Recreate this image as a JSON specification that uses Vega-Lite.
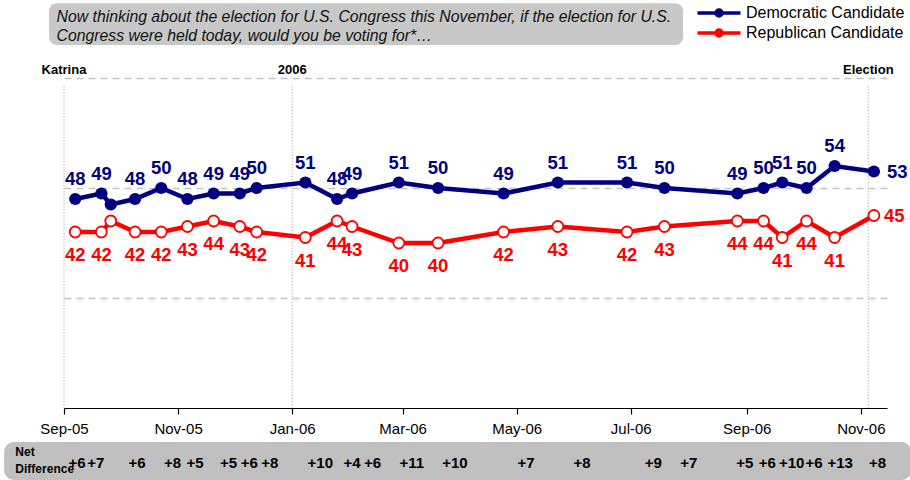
{
  "$schema": "https://vega.github.io/schema/vega-lite/v6.json",
  "width": 823,
  "height": 330,
  "autosize": {"type": "none"},
  "padding": {"left": 64, "top": 78, "right": 23, "bottom": 72},
  "background": "white",
  "config": {"font": "Liberation Sans", "view": {"stroke": null}},
  "datasets": {
    "series": [
      {"date": "2005-09-07", "dem": 48, "rep": 42, "dl": "48", "rl": "42"},
      {"date": "2005-09-21", "dem": 49, "rep": 42, "dl": "49", "rl": "42"},
      {"date": "2005-09-26", "dem": 47, "rep": 44, "dl": null, "rl": null},
      {"date": "2005-10-09", "dem": 48, "rep": 42, "dl": "48", "rl": "42"},
      {"date": "2005-10-23", "dem": 50, "rep": 42, "dl": "50", "rl": "42"},
      {"date": "2005-11-06", "dem": 48, "rep": 43, "dl": "48", "rl": "43"},
      {"date": "2005-11-20", "dem": 49, "rep": 44, "dl": "49", "rl": "44"},
      {"date": "2005-12-04", "dem": 49, "rep": 43, "dl": "49", "rl": "43"},
      {"date": "2005-12-13", "dem": 50, "rep": 42, "dl": "50", "rl": "42"},
      {"date": "2006-01-08", "dem": 51, "rep": 41, "dl": "51", "rl": "41"},
      {"date": "2006-01-25", "dem": 48, "rep": 44, "dl": "48", "rl": "44"},
      {"date": "2006-02-02", "dem": 49, "rep": 43, "dl": "49", "rl": "43"},
      {"date": "2006-02-27", "dem": 51, "rep": 40, "dl": "51", "rl": "40"},
      {"date": "2006-03-20", "dem": 50, "rep": 40, "dl": "50", "rl": "40"},
      {"date": "2006-04-24", "dem": 49, "rep": 42, "dl": "49", "rl": "42"},
      {"date": "2006-05-23", "dem": 51, "rep": 43, "dl": "51", "rl": "43"},
      {"date": "2006-06-29", "dem": 51, "rep": 42, "dl": "51", "rl": "42"},
      {"date": "2006-07-19", "dem": 50, "rep": 43, "dl": "50", "rl": "43"},
      {"date": "2006-08-27", "dem": 49, "rep": 44, "dl": "49", "rl": "44"},
      {"date": "2006-09-10", "dem": 50, "rep": 44, "dl": "50", "rl": "44"},
      {"date": "2006-09-20", "dem": 51, "rep": 41, "dl": "51", "rl": "41"},
      {"date": "2006-10-03", "dem": 50, "rep": 44, "dl": "50", "rl": "44"},
      {"date": "2006-10-18", "dem": 54, "rep": 41, "dl": "54", "rl": "41"},
      {"date": "2006-11-08", "dem": 53, "rep": 45, "dl": "53", "rl": "45"}
    ],
    "net": [
      {"date": "2005-09-08", "net": "+6"},
      {"date": "2005-09-18", "net": "+7"},
      {"date": "2005-10-10", "net": "+6"},
      {"date": "2005-10-29", "net": "+8"},
      {"date": "2005-11-10", "net": "+5"},
      {"date": "2005-11-28", "net": "+5"},
      {"date": "2005-12-09", "net": "+6"},
      {"date": "2005-12-20", "net": "+8"},
      {"date": "2006-01-16", "net": "+10"},
      {"date": "2006-02-02", "net": "+4"},
      {"date": "2006-02-13", "net": "+6"},
      {"date": "2006-03-06", "net": "+11"},
      {"date": "2006-03-29", "net": "+10"},
      {"date": "2006-05-06", "net": "+7"},
      {"date": "2006-06-05", "net": "+8"},
      {"date": "2006-07-13", "net": "+9"},
      {"date": "2006-08-01", "net": "+7"},
      {"date": "2006-08-31", "net": "+5"},
      {"date": "2006-09-12", "net": "+6"},
      {"date": "2006-09-25", "net": "+10"},
      {"date": "2006-10-07", "net": "+6"},
      {"date": "2006-10-21", "net": "+13"},
      {"date": "2006-11-10", "net": "+8"}
    ],
    "events": [
      {"date": "2005-09-01", "label": "Katrina"},
      {"date": "2006-01-01", "label": "2006"},
      {"date": "2006-11-05", "label": "Election"}
    ]
  },
  "layer": [
    {
      "data": {"values": [{}]},
      "mark": {"type": "rect", "color": "#c0c0c0", "cornerRadius": 10},
      "encoding": {
        "x": {"datum": {"year": 2005, "month": 7, "date": 31, "utc": true}, "type": "temporal",
          "scale": {"type": "utc", "nice": false, "domain": [{"year": 2005, "month": 9, "date": 1, "utc": true}, {"year": 2006, "month": 11, "date": 15, "utc": true}]},
          "axis": {"title": null, "format": "%b-%y", "grid": false, "labelFlush": false, "labelOverlap": false,
            "values": [
              {"year": 2005, "month": 9, "date": 1, "utc": true},
              {"year": 2005, "month": 11, "date": 1, "utc": true},
              {"year": 2006, "month": 1, "date": 1, "utc": true},
              {"year": 2006, "month": 3, "date": 1, "utc": true},
              {"year": 2006, "month": 5, "date": 1, "utc": true},
              {"year": 2006, "month": 7, "date": 1, "utc": true},
              {"year": 2006, "month": 9, "date": 1, "utc": true},
              {"year": 2006, "month": 11, "date": 1, "utc": true}
            ],
            "labelFontSize": 15, "labelColor": "#000", "domainColor": "#000", "domainWidth": 1.2,
            "tickColor": "#000", "tickSize": 6, "tickWidth": 1.2, "labelPadding": 7}},
        "x2": {"datum": {"year": 2006, "month": 11, "date": 28, "utc": true}},
        "y": {"datum": 3.8, "type": "quantitative",
          "scale": {"domain": [10, 70], "nice": false, "zero": false},
          "axis": {"title": null, "values": [30, 50, 70], "grid": true, "labels": false, "ticks": false, "domain": false,
            "gridDash": [7, 5], "gridColor": "#c4c4c4", "gridWidth": 1.5}},
        "y2": {"datum": -3.1}
      }
    },
    {
      "data": {"values": [{}]},
      "mark": {"type": "rect", "color": "#c8c8c8", "cornerRadius": 8},
      "encoding": {
        "x": {"datum": {"year": 2005, "month": 8, "date": 24, "utc": true}, "type": "temporal"},
        "x2": {"datum": {"year": 2006, "month": 7, "date": 29, "utc": true}},
        "y": {"datum": 83.6, "type": "quantitative"},
        "y2": {"datum": 76}
      }
    },
    {
      "data": {"values": [{}]},
      "mark": {"type": "text", "align": "left", "baseline": "middle", "fontStyle": "italic", "fontSize": 15.8, "lineHeight": 19, "color": "#111"},
      "encoding": {
        "x": {"datum": {"year": 2005, "month": 8, "date": 28, "utc": true}, "type": "temporal"},
        "y": {"datum": 81.1, "type": "quantitative"},
        "text": {"value": ["Now thinking about the election for U.S. Congress this November, if the election for U.S.", "Congress were held today, would you be voting for*…"]}
      }
    },
    {
      "data": {"values": [{}]},
      "mark": {"type": "text", "align": "left", "baseline": "middle", "fontWeight": "bold", "fontSize": 12, "lineHeight": 17, "color": "#000"},
      "encoding": {
        "x": {"datum": {"year": 2005, "month": 8, "date": 6, "utc": true}, "type": "temporal"},
        "y": {"datum": 2.0, "type": "quantitative"},
        "text": {"value": ["Net", "Difference"]}
      }
    },
    {
      "data": {"name": "net"},
      "mark": {"type": "text", "fontWeight": "bold", "fontSize": 15, "color": "#000", "baseline": "middle"},
      "encoding": {
        "x": {"field": "date", "type": "temporal", "title": null},
        "y": {"datum": 0, "type": "quantitative"},
        "text": {"field": "net", "type": "nominal"}
      }
    },
    {
      "data": {"name": "events"},
      "mark": {"type": "rule", "color": "#9a9a9a", "strokeDash": [1, 2], "strokeWidth": 1},
      "encoding": {
        "x": {"field": "date", "type": "temporal", "title": null},
        "y": {"datum": 68.5, "type": "quantitative"},
        "y2": {"datum": 10}
      }
    },
    {
      "data": {"name": "events"},
      "mark": {"type": "text", "fontWeight": "bold", "fontSize": 13, "color": "#000", "baseline": "middle"},
      "encoding": {
        "x": {"field": "date", "type": "temporal", "title": null},
        "y": {"datum": 71.4, "type": "quantitative"},
        "text": {"field": "label", "type": "nominal"}
      }
    },
    {
      "data": {"name": "series", "format": {"parse": {"date": "date"}}},
      "mark": {"type": "line", "strokeWidth": 4.5},
      "encoding": {
        "x": {"field": "date", "type": "temporal", "title": null},
        "y": {"field": "dem", "type": "quantitative", "title": null},
        "color": {"datum": "Democratic Candidate",
          "scale": {"domain": ["Democratic Candidate", "Republican Candidate"], "range": ["#000080", "#ff0000"]},
          "legend": {"orient": "none", "legendX": 647, "legendY": -73, "title": null,
            "labelFontSize": 16, "labelColor": "#000", "labelFont": "Liberation Sans",
            "symbolSize": 100, "symbolStrokeWidth": 3, "labelOffset": 19, "rowPadding": 0,
            "symbolType": "M-4.3,0L-0.6,0M0.6,0L4.3,0M0.6,0A0.6,0.6 0 1 1 -0.6,0A0.6,0.6 0 1 1 0.6,0",
            "encode": {"symbols": {"update": {
              "fill": {"signal": "datum.value === 'Democratic Candidate' ? '#000080' : '#ffffff'"},
              "stroke": {"signal": "datum.value === 'Democratic Candidate' ? '#000080' : '#ff0000'"},
              "strokeWidth": {"value": 3.5},
              "opacity": {"value": 1}
            }}}}}
      }
    },
    {
      "data": {"name": "series", "format": {"parse": {"date": "date"}}},
      "mark": {"type": "line", "strokeWidth": 4.5},
      "encoding": {
        "x": {"field": "date", "type": "temporal", "title": null},
        "y": {"field": "rep", "type": "quantitative", "title": null},
        "color": {"datum": "Republican Candidate"}
      }
    },
    {
      "data": {"name": "series", "format": {"parse": {"date": "date"}}},
      "mark": {"type": "point", "filled": true, "size": 150, "opacity": 1},
      "encoding": {
        "x": {"field": "date", "type": "temporal", "title": null},
        "y": {"field": "dem", "type": "quantitative", "title": null},
        "color": {"datum": "Democratic Candidate"}
      }
    },
    {
      "data": {"name": "series", "format": {"parse": {"date": "date"}}},
      "mark": {"type": "point", "filled": false, "fill": "white", "size": 120, "strokeWidth": 1.8, "opacity": 1},
      "encoding": {
        "x": {"field": "date", "type": "temporal", "title": null},
        "y": {"field": "rep", "type": "quantitative", "title": null},
        "color": {"datum": "Republican Candidate"}
      }
    },
    {
      "data": {"name": "series", "format": {"parse": {"date": "date"}}},
      "transform": [{"filter": "isValid(datum.dl) && datum.date < utc(2006, 10, 1)"}],
      "mark": {"type": "text", "fontWeight": "bold", "fontSize": 18.5, "color": "#000080", "baseline": "middle", "dy": -20},
      "encoding": {
        "x": {"field": "date", "type": "temporal", "title": null},
        "y": {"field": "dem", "type": "quantitative", "title": null},
        "text": {"field": "dl", "type": "nominal"}
      }
    },
    {
      "data": {"name": "series", "format": {"parse": {"date": "date"}}},
      "transform": [{"filter": "isValid(datum.rl) && datum.date < utc(2006, 10, 1)"}],
      "mark": {"type": "text", "fontWeight": "bold", "fontSize": 18.5, "color": "#ff0000", "baseline": "middle", "dy": 23},
      "encoding": {
        "x": {"field": "date", "type": "temporal", "title": null},
        "y": {"field": "rep", "type": "quantitative", "title": null},
        "text": {"field": "rl", "type": "nominal"}
      }
    },
    {
      "data": {"name": "series", "format": {"parse": {"date": "date"}}},
      "transform": [{"filter": "datum.date >= utc(2006, 10, 1)"}],
      "mark": {"type": "text", "fontWeight": "bold", "fontSize": 18.5, "color": "#000080", "baseline": "middle", "align": "left", "dx": 13},
      "encoding": {
        "x": {"field": "date", "type": "temporal", "title": null},
        "y": {"field": "dem", "type": "quantitative", "title": null},
        "text": {"field": "dl", "type": "nominal"}
      }
    },
    {
      "data": {"name": "series", "format": {"parse": {"date": "date"}}},
      "transform": [{"filter": "datum.date >= utc(2006, 10, 1)"}],
      "mark": {"type": "text", "fontWeight": "bold", "fontSize": 18.5, "color": "#ff0000", "baseline": "middle", "align": "left", "dx": 10},
      "encoding": {
        "x": {"field": "date", "type": "temporal", "title": null},
        "y": {"field": "rep", "type": "quantitative", "title": null},
        "text": {"field": "rl", "type": "nominal"}
      }
    }
  ]
}
